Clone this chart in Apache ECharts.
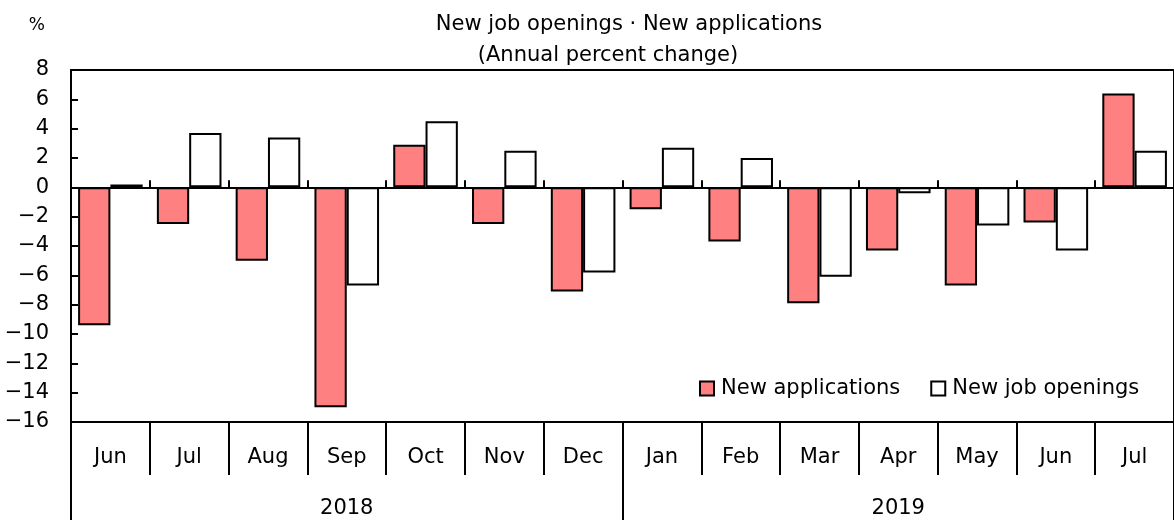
<!DOCTYPE html>
<html>
<head>
<meta charset="utf-8">
<script src="https://cdn.jsdelivr.net/npm/echarts@6/dist/echarts.min.js"></script>
<style>
html, body { margin: 0; padding: 0; background: #fff; }
#chart { width: 1174px; height: 520px; }
</style>
</head>
<body>
<div id="chart"></div>
<script>
const months = ['Jun', 'Jul', 'Aug', 'Sep', 'Oct', 'Nov', 'Dec', 'Jan', 'Feb', 'Mar', 'Apr', 'May', 'Jun', 'Jul']
const years = ['2018', '2019']
const newApplications = [-9.4, -2.5, -5.0, -15.0, 2.9, -2.5, -7.1, -1.5, -3.7, -7.9, -4.3, -6.7, -2.4, 6.4]
const newJobOpenings = [0.2, 3.7, 3.4, -6.7, 4.5, 2.5, -5.8, 2.7, 2.0, -6.1, -0.4, -2.6, -4.3, 2.5]

const FONT = 'DejaVu Sans'
const black = '#000'
const FS = 21

const chart = echarts.init(document.getElementById('chart'))
const option = {
    animation: false,
    textStyle: { fontFamily: FONT, color: black },
    title: [
        {
            text: 'New job openings \u00b7 New applications',
            left: 624, top: 9, textAlign: 'center',
            textStyle: { fontFamily: FONT, fontSize: FS, fontWeight: 'normal', color: black }
        },
        {
            text: '(Annual percent change)',
            left: 603, top: 40, textAlign: 'center',
            textStyle: { fontFamily: FONT, fontSize: FS, fontWeight: 'normal', color: black }
        }
    ],
    legend: {
        left: 694, top: 373,
        itemWidth: 14, itemHeight: 14, itemGap: 30,
        icon: 'rect',
        textStyle: { fontFamily: FONT, fontSize: FS, color: black, padding: [0, 0, 0, 2] },
        data: ['New applications', 'New job openings']
    },
    grid: {
        left: 71, right: -4, top: 70, bottom: 98,
        show: true, borderColor: black, borderWidth: 2
    },
    xAxis: [
        {
            type: 'category',
            data: months,
            position: 'bottom',
            axisLine: { onZero: false, lineStyle: { color: black, width: 2 } },
            axisTick: { show: true, interval: 0, length: 53, lineStyle: { color: black, width: 2 } },
            axisLabel: { interval: 0, margin: 25, fontFamily: FONT, fontSize: FS, color: black }
        },
        {
            type: 'category',
            data: years,
            position: 'bottom',
            offset: 53,
            axisLine: { show: false, onZero: false },
            axisTick: { show: true, interval: 0, length: 50, lineStyle: { color: black, width: 2 } },
            axisLabel: { interval: 0, margin: 23, fontFamily: FONT, fontSize: FS, color: black }
        },
        {
            type: 'category',
            data: months,
            position: 'bottom',
            axisLine: { onZero: true, lineStyle: { color: black, width: 2 } },
            axisTick: { show: true, interval: 0, inside: true, length: 7, lineStyle: { color: black, width: 2 } },
            axisLabel: { show: false }
        }
    ],
    yAxis: {
        type: 'value',
        min: -16, max: 8, interval: 2,
        name: '%',
        nameLocation: 'end',
        nameGap: 36,
        nameTextStyle: { fontFamily: FONT, fontSize: 17, color: black, align: 'right', padding: [0, 26, 0, 0] },
        axisLine: { show: true, lineStyle: { color: black, width: 2 } },
        axisTick: { show: true, inside: true, length: 7, lineStyle: { color: black, width: 2 } },
        splitLine: { show: false },
        axisLabel: {
            margin: 22,
            fontFamily: FONT, fontSize: FS, color: black,
            formatter: v => String(v).replace('-', '\u2212')
        }
    },
    series: [
        {
            name: 'New applications',
            type: 'bar',
            xAxisIndex: 0,
            data: newApplications,
            barGap: 0,
            barCategoryGap: '18%',
            itemStyle: { color: '#FF8080', borderColor: black, borderWidth: 2 }
        },
        {
            name: 'New job openings',
            type: 'bar',
            xAxisIndex: 0,
            data: newJobOpenings,
            barGap: 0,
            barCategoryGap: '18%',
            itemStyle: { color: '#FFFFFF', borderColor: black, borderWidth: 2 }
        }
    ]
}
chart.setOption(option)
</script>
</body>
</html>
